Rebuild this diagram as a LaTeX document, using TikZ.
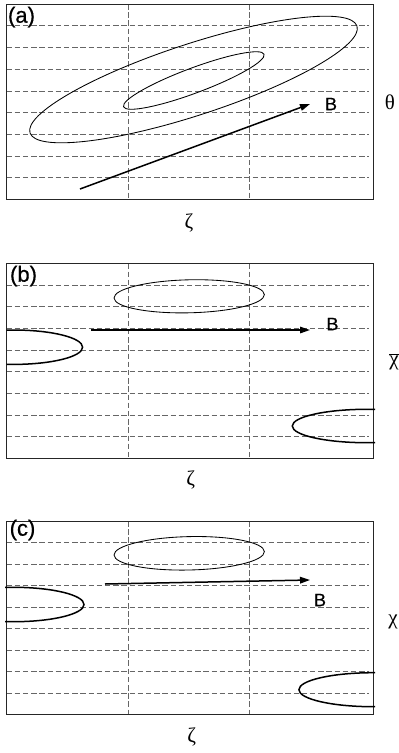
\documentclass[tikz,border=0pt]{standalone}
\usepackage{fontspec}
\setmainfont{Liberation Sans}[FakeBold=0.6]
\newfontfamily\grk{Liberation Serif}
\usetikzlibrary{arrows.meta}
\begin{document}
\begin{tikzpicture}[x=1pt,y=-1pt,
  frame/.style={draw=black!85, line width=0.9pt},
  griddash/.style={draw=black!60, line width=0.55pt, dash pattern=on 5.5pt off 2.7pt},
  ellline/.style={draw=black, line width=0.85pt},
  bolline/.style={draw=black, line width=1.5pt},
  fieldarrow/.style={draw=black, line width=1.5pt, -{Triangle[length=10pt,width=6.5pt]}},
  panellabel/.style={font=\fontsize{22}{22}\selectfont, inner sep=0pt},
  blabel/.style={font=\fontsize{18}{18}\selectfont, inner sep=0pt},
  axislabel/.style={font=\grk\fontsize{21}{21}\selectfont, inner sep=0pt}]
\useasboundingbox (0,0) rectangle (399,753);

% grids and frames
\foreach \t/\b in {4/199.3, 263.3/458.3, 521/714.3} {
  \foreach \k in {1,...,8}
    \draw[griddash] (6.5,{\t+\k*(\b-\t)/9}) -- (369,{\t+\k*(\b-\t)/9});
  \draw[griddash] (128.5,\t) -- (128.5,\b);
  \draw[griddash] (249.5,\t) -- (249.5,\b);
  \draw[frame] (6.5,\t) rectangle (373,\b);
}

% ---------- panel (a)
\draw[ellline, rotate around={18.1:(193.5,79.5)}] (193.5,79.5) ellipse [x radius=172, y radius=35.7];
\draw[ellline, rotate around={20.5:(193.8,80.5)}] (193.8,80.5) ellipse [x radius=75, y radius=12.5];
\coordinate (a1) at (80,189);
\coordinate (a2) at (310,104);
\draw[fieldarrow] (a1) -- (a2);
\node[blabel] (Ba) at (331,104) {B};
\node[panellabel] (la) at (21.5,17) {(a)};
\node[axislabel] (tha) at (390,102) {θ};
\node[axislabel] (za) at (189,223) {ζ};

% ---------- panel (b)
\draw[ellline, rotate around={1.3:(189.2,296.3)}] (189.2,296.3) ellipse [x radius=75.2, y radius=16.5];
\begin{scope}
  \clip (6.5,263.3) rectangle (375,458.3);
  \draw[bolline] (13.3,347.2) ellipse [x radius=69.3, y radius=17.2];
  \draw[bolline] (366.7,426) ellipse [x radius=74.4, y radius=16.7];
\end{scope}
\coordinate (b1) at (91,330);
\coordinate (b2) at (310,330);
\draw[fieldarrow] (b1) -- (b2);
\node[blabel] (Bb) at (332.5,324) {B};
\node[panellabel] (lb) at (23.5,276) {(b)};
\node[axislabel, anchor=base] (chb) at (394,365) {\(\overline{\mbox{\grk χ}}\)};
\node[axislabel] (zb) at (190.7,480) {ζ};

% ---------- panel (c)
\draw[ellline, rotate around={1.3:(189.2,553.3)}] (189.2,553.3) ellipse [x radius=75.2, y radius=16.7];
\begin{scope}
  \clip (5,521) rectangle (375,714.3);
  \draw[bolline] (13.5,604.5) ellipse [x radius=70.5, y radius=17.2];
  \draw[bolline] (373.3,689.7) ellipse [x radius=74.4, y radius=17];
\end{scope}
\coordinate (c1) at (105,584);
\coordinate (c2) at (310,580);
\draw[fieldarrow] (c1) -- (c2);
\node[blabel] (Bc) at (320,600) {B};
\node[panellabel] (lc) at (22.5,530) {(c)};
\node[axislabel] (chc) at (393,621.7) {χ};
\node[axislabel] (zc) at (191.7,736.7) {ζ};
\end{tikzpicture}
\end{document}
